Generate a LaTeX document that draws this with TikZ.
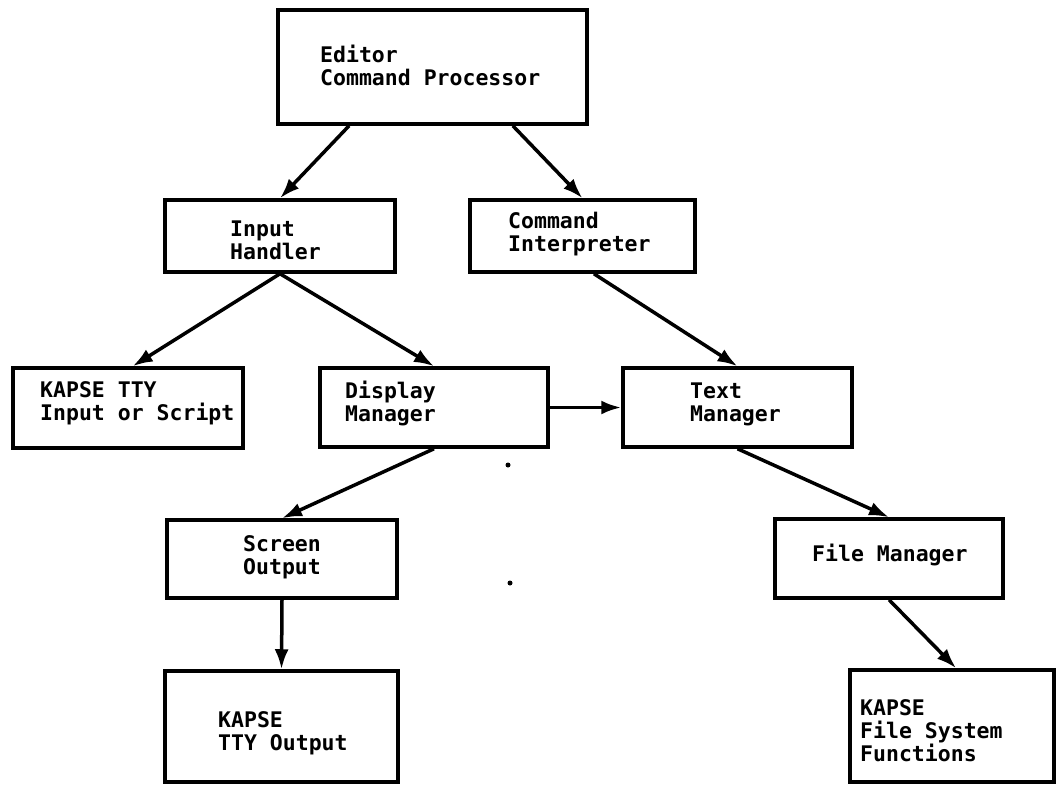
\documentclass[tikz,border=0pt]{standalone}
\usepackage{fontspec}
\newfontfamily\lblfont{DejaVu Sans Mono}
\usetikzlibrary{arrows.meta,calc}

\tikzset{
  box/.style={draw, line width=3.5pt, inner sep=0pt, rectangle},
  lbl/.style={anchor=west, inner sep=0pt, align=left,
    font=\lblfont\bfseries\fontsize{21.5}{23}\selectfont},
  flow/.style={line width=3.5pt, -{Latex[length=20pt,width=14pt]}},
}

\begin{document}
\begin{tikzpicture}[x=1pt,y=-1pt]
  \useasboundingbox (0,0) rectangle (1056,784);

  % module boxes
  \node[box, minimum width=309pt, minimum height=114pt] (ed)  at (432.5,67)   {};
  \node[box, minimum width=230pt, minimum height=72pt]  (ih)  at (280,236)    {};
  \node[box, minimum width=225pt, minimum height=72pt]  (ci)  at (582.5,236)  {};
  \node[box, minimum width=230pt, minimum height=80pt]  (kti) at (128,408)    {};
  \node[box, minimum width=228pt, minimum height=79pt]  (dm)  at (434,407.5)  {};
  \node[box, minimum width=229pt, minimum height=79pt]  (tm)  at (737.5,407.5){};
  \node[box, minimum width=230pt, minimum height=78pt]  (so)  at (282,559)    {};
  \node[box, minimum width=228pt, minimum height=79pt]  (fm)  at (889,558.5)  {};
  \node[box, minimum width=233pt, minimum height=111pt] (kto) at (281.5,726.5){};
  \node[box, minimum width=204pt, minimum height=112pt] (kfs) at (952,726)    {};

  % box labels
  \node[lbl] (edT)  at (320,65)  {Editor\\Command Processor};
  \node[lbl] (ihT)  at (230,240) {Input\\Handler};
  \node[lbl] (ciT)  at (508,234) {Command\\Interpreter};
  \node[lbl] (ktiT) at (40,403)  {KAPSE TTY\\Input or Script};
  \node[lbl] (dmT)  at (345,403) {Display\\Manager};
  \node[lbl] (tmT)  at (690,404) {Text\\Manager};
  \node[lbl] (soT)  at (243,557) {Screen\\Output};
  \node[lbl] (fmT)  at (812,555) {File Manager};
  \node[lbl] (ktoT) at (218,733) {KAPSE\\TTY Output};
  \node[lbl] (kfsT) at (860,731) {KAPSE\\File System\\Functions};

  % connectors
  \draw[flow] ($(ed.south west)!0.233!(ed.south east)$) -- (ih.north);
  \draw[flow] ($(ed.south west)!0.757!(ed.south east)$) -- (ci.north);
  \draw[flow] (ih.south) -- ($(kti.north west)!0.52!(kti.north east)$);
  \draw[flow] (ih.south) -- (dm.north);
  \draw[flow] ($(ci.south west)!0.55!(ci.south east)$) -- (tm.north);
  \draw[flow] (dm.east) -- (tm.west);
  \draw[flow] (dm.south) -- (so.north);
  \draw[flow] (tm.south) -- (fm.north);
  \draw[flow] (so.south) -- (kto.north);
  \draw[flow] (fm.south) -- ($(kfs.north west)!0.52!(kfs.north east)$);

  % stray marks
  \fill (508,465) circle (2.5pt);
  \fill (510,583) circle (2.5pt);
\end{tikzpicture}
\end{document}
